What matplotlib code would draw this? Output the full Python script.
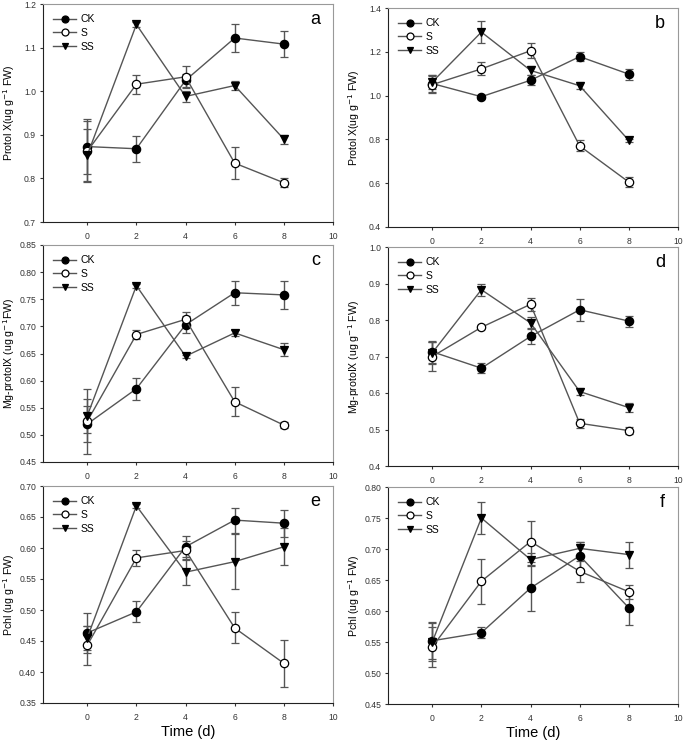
import matplotlib
matplotlib.use('Agg')
import matplotlib.pyplot as plt
from matplotlib.lines import Line2D
import numpy as np

plt.rcParams['font.family'] = ['Liberation Sans', 'DejaVu Sans']

days = [0, 2, 4, 6, 8]
series = ['CK', 'S', 'SS']

# panel a
a_ck = [0.873, 0.868, 1.025, 1.122, 1.108]
a_ck_err = [0.063, 0.030, 0.015, 0.033, 0.030]
a_s = [0.862, 1.016, 1.033, 0.835, 0.790]
a_s_err = [0.070, 0.022, 0.025, 0.037, 0.010]
a_ss = [0.853, 1.153, 0.988, 1.013, 0.890]
a_ss_err = [0.060, 0.005, 0.012, 0.010, 0.010]

# panel b
b_ck = [1.055, 0.995, 1.070, 1.178, 1.098]
b_ck_err = [0.040, 0.010, 0.022, 0.020, 0.025]
b_s = [1.050, 1.122, 1.205, 0.770, 0.605]
b_s_err = [0.040, 0.030, 0.035, 0.025, 0.022]
b_ss = [1.062, 1.290, 1.115, 1.045, 0.795]
b_ss_err = [0.030, 0.050, 0.020, 0.015, 0.008]

# panel c
c_ck = [0.520, 0.585, 0.703, 0.762, 0.758]
c_ck_err = [0.033, 0.020, 0.016, 0.022, 0.026]
c_s = [0.525, 0.685, 0.713, 0.561, 0.518]
c_s_err = [0.060, 0.008, 0.013, 0.027, 0.005]
c_ss = [0.535, 0.775, 0.645, 0.688, 0.657]
c_ss_err = [0.032, 0.004, 0.003, 0.006, 0.012]

# panel d
d_ck = [0.713, 0.668, 0.755, 0.828, 0.797]
d_ck_err = [0.030, 0.014, 0.022, 0.030, 0.015]
d_s = [0.700, 0.780, 0.843, 0.517, 0.497]
d_s_err = [0.040, 0.005, 0.018, 0.013, 0.010]
d_ss = [0.710, 0.883, 0.792, 0.604, 0.560]
d_ss_err = [0.030, 0.017, 0.017, 0.010, 0.013]

# panel e
e_ck = [0.463, 0.497, 0.602, 0.645, 0.640]
e_ck_err = [0.032, 0.017, 0.017, 0.020, 0.022]
e_s = [0.443, 0.584, 0.596, 0.471, 0.414]
e_s_err = [0.032, 0.013, 0.015, 0.025, 0.038]
e_ss = [0.455, 0.668, 0.561, 0.578, 0.602]
e_ss_err = [0.020, 0.003, 0.021, 0.044, 0.030]

# panel f
f_ck = [0.552, 0.565, 0.637, 0.689, 0.605]
f_ck_err = [0.030, 0.009, 0.037, 0.022, 0.027]
f_s = [0.542, 0.648, 0.712, 0.664, 0.631]
f_s_err = [0.033, 0.036, 0.033, 0.017, 0.011]
f_ss = [0.550, 0.750, 0.683, 0.701, 0.691]
f_ss_err = [0.030, 0.026, 0.010, 0.010, 0.021]

panels = [
    ('a', [a_ck, a_s, a_ss], [a_ck_err, a_s_err, a_ss_err], (0.7, 1.2), 0.1, '%.1f', 'Protol X(ug g$^{-1}$ FW)'),
    ('b', [b_ck, b_s, b_ss], [b_ck_err, b_s_err, b_ss_err], (0.4, 1.4), 0.2, '%.1f', 'Protol X(ug g$^{-1}$ FW)'),
    ('c', [c_ck, c_s, c_ss], [c_ck_err, c_s_err, c_ss_err], (0.45, 0.85), 0.05, '%.2f', 'Mg-protoIX (ug g$^{-1}$FW)'),
    ('d', [d_ck, d_s, d_ss], [d_ck_err, d_s_err, d_ss_err], (0.4, 1.0), 0.1, '%.1f', 'Mg-protoIX (ug g$^{-1}$ FW)'),
    ('e', [e_ck, e_s, e_ss], [e_ck_err, e_s_err, e_ss_err], (0.35, 0.70), 0.05, '%.2f', 'Pchl (ug g$^{-1}$ FW)'),
    ('f', [f_ck, f_s, f_ss], [f_ck_err, f_s_err, f_ss_err], (0.45, 0.80), 0.05, '%.2f', 'Pchl (ug g$^{-1}$ FW)'),
]

# axes boxes in pixels: left, top, right, bottom
boxes = [(43, 4, 333, 222), (388, 8, 678, 227),
         (43, 245, 333, 462), (388, 247, 678, 466),
         (43, 486, 333, 703), (388, 487, 678, 704)]

W, H = 685, 740
fig = plt.figure(figsize=(W / 100, H / 100), dpi=100)

markers = ['o', 'o', 'v']
faces = ['black', 'white', 'black']
line_col = '#555555'

for i, (lab, vals, errs, ylim, step, fmt, ylabel) in enumerate(panels):
    l, t, r, b = boxes[i]
    ax = fig.add_axes([l / W, 1 - b / H, (r - l) / W, (b - t) / H])
    for k in range(3):
        ax.errorbar(days, vals[k], yerr=errs[k], color=line_col, lw=1.0,
                    ecolor='#555555', elinewidth=1.0, capsize=3, capthick=1.0,
                    marker=markers[k], ms=6, mfc=faces[k], mec='black', mew=0.9,
                    zorder=3)
    ax.set_xlim(-1.8, 10)
    ax.set_ylim(*ylim)
    ax.set_xticks([0, 2, 4, 6, 8, 10])
    ax.set_yticks(np.arange(ylim[0], ylim[1] + step / 2, step))
    ax.yaxis.set_major_formatter(matplotlib.ticker.FormatStrFormatter(fmt))
    ax.tick_params(labelsize=6.2, length=2.5, width=0.8, direction='out', colors='#333333', pad=2.5)
    ax.tick_params(axis='x', pad=5)
    ax.spines['left'].set_color('#222222')
    ax.spines['bottom'].set_color('#222222')
    ax.spines['top'].set_color('#999999')
    ax.spines['right'].set_color('#999999')
    ax.set_ylabel(ylabel, fontsize=7.6, va='center')
    if i % 2 == 0:
        ax.yaxis.set_label_coords(-0.116, 0.5)
    else:
        ax.yaxis.set_label_coords(-0.117, 0.5)
    ax.text(0.955, 0.93, lab, transform=ax.transAxes, fontsize=13, ha='right', va='center')
    handles = [Line2D([], [], color=line_col, lw=1.0, marker=markers[k], ms=5,
                      mfc=faces[k], mec='black', mew=0.9) for k in range(3)]
    ax.legend(handles, series, loc='upper left', fontsize=7.5, frameon=False,
              handlelength=2.2, borderaxespad=0.6, labelspacing=0.35, handletextpad=0.4)
    if i >= 4:
        ax.set_xlabel('Time (d)', fontsize=10.5)
        ax.xaxis.set_label_coords(0.5, -0.1)

fig.savefig('out.png', dpi=100)
